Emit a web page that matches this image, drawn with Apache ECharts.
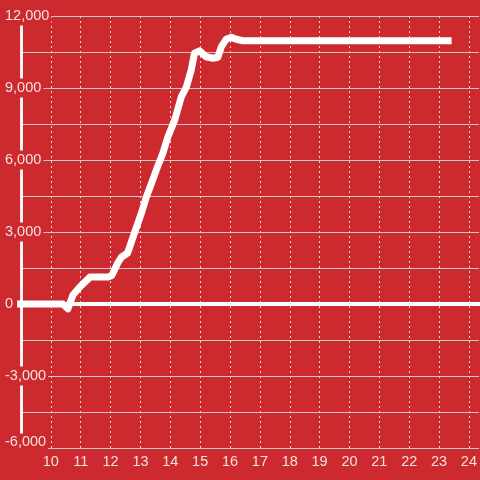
<!DOCTYPE html>
<html>
<head>
<meta charset="utf-8">
<script src="https://cdn.jsdelivr.net/npm/echarts@6/dist/echarts.min.js"></script>
<style>
html,body{margin:0;padding:0;background:#cc2a2f;}
#chart{width:480px;height:480px;}
</style>
</head>
<body>
<div id="chart"></div>
<script>
// Hours of day (x) and cumulative values (y)
var hours = [8.87, 10.40, 10.57, 10.74, 10.97, 11.31, 11.91, 12.04, 12.24, 12.37, 12.57, 12.81, 13.03, 13.20, 13.37, 13.53, 13.75, 13.92, 14.15, 14.37, 14.54, 14.70, 14.81, 14.98, 15.20, 15.43, 15.59, 15.71, 15.87, 16.04, 16.21, 16.43, 23.42];
var values = [0, 0, -200, 375, 710, 1120, 1120, 1190, 1710, 1960, 2125, 3000, 3780, 4470, 5030, 5580, 6280, 6970, 7670, 8640, 9050, 9750, 10450, 10550, 10300, 10240, 10280, 10720, 11030, 11110, 11030, 10970, 10970];
var xTickLabels = [10, 11, 12, 13, 14, 15, 16, 17, 18, 19, 20, 21, 22, 23, 24];
var yTickLabels = [-6000, -3000, 0, 3000, 6000, 9000, 12000];

var bg = '#cc2a2f';
var labelColor = '#f3e0e0';
var font = 'Liberation Sans, Arial, sans-serif';
var fs = 14.5;
var chart = echarts.init(document.getElementById('chart'));
chart.setOption({
  backgroundColor: bg,
  animation: false,
  grid: {left: 21, right: 0, top: 16, bottom: 32, containLabel: false},
  xAxis: {
    type: 'value', min: 9, max: 24.34, interval: 1,
    axisLine: {onZero: true, lineStyle: {color: '#ffffff', width: 4}},
    axisTick: {show: false},
    splitLine: {show: true, showMinLine: false, showMaxLine: false, lineStyle: {color: '#e6d6d6', width: 1, type: [2, 3]}},
    axisLabel: {
      color: labelColor, fontSize: fs, fontFamily: font, margin: 6,
      showMaxLabel: false,
      formatter: function (v) { return xTickLabels.indexOf(v) >= 0 ? String(v) : ''; }
    }
  },
  yAxis: {
    type: 'value', min: -6000, max: 12000, interval: 1500,
    axisLine: {show: true, onZero: false, lineStyle: {color: '#f2f2f2', width: 3}},
    axisTick: {show: false},
    splitLine: {show: true, lineStyle: {color: '#cfc6c6', width: 1}},
    axisLabel: {
      color: labelColor, fontSize: fs, fontFamily: font,
      align: 'left', margin: 18,
      formatter: function (v) {
        if (yTickLabels.indexOf(v) < 0) return '';
        var s = v.toLocaleString('en-US');
        if (v === yTickLabels[0]) return '{low|' + s + '}';
        return '{n|' + s + '}';
      },
      rich: {
        n: {backgroundColor: bg, padding: [2, 2, 2, 2], color: labelColor, fontSize: fs, fontFamily: font},
        low: {backgroundColor: bg, padding: [1, 2, 13, 2], color: labelColor, fontSize: fs, fontFamily: font}
      }
    }
  },
  series: [{
    type: 'line',
    data: hours.map(function (h, i) { return [h, values[i]]; }),
    showSymbol: false,
    clip: false,
    lineStyle: {color: '#ffffff', width: 7, join: 'round', cap: 'butt'},
    z: 3
  }]
});
</script>
</body>
</html>
